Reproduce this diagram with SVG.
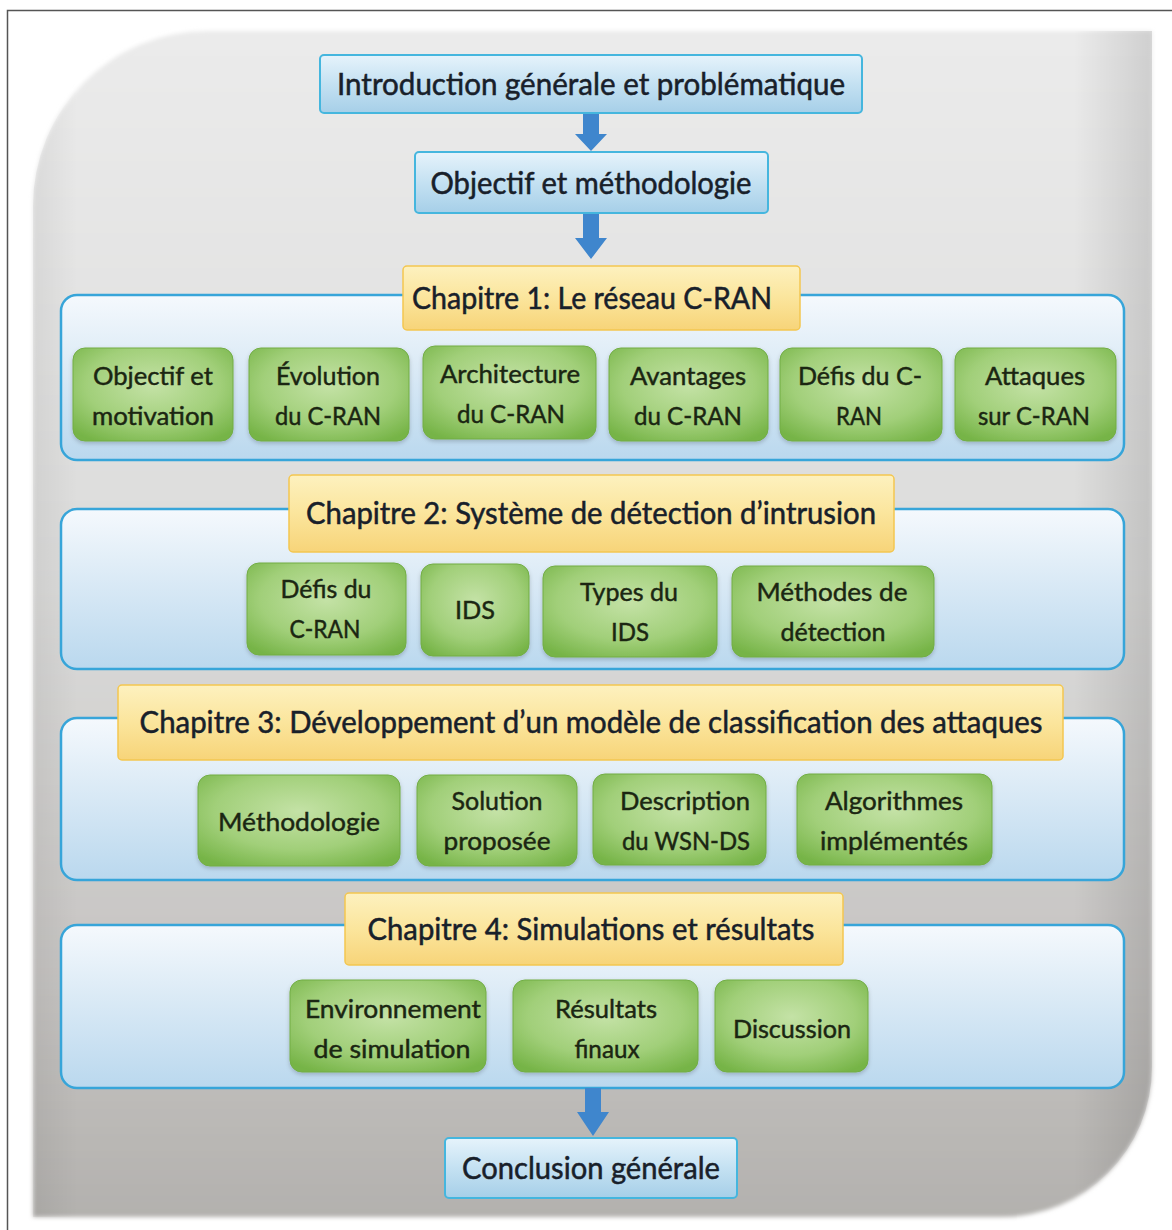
<svg xmlns="http://www.w3.org/2000/svg" width="1172" height="1230" viewBox="0 0 1172 1230">
  <defs>
    <linearGradient id="bgGrad" x1="0" y1="0" x2="0" y2="1">
      <stop offset="0" stop-color="#ebebeb"/>
      <stop offset="0.45" stop-color="#dcdcdb"/>
      <stop offset="0.8" stop-color="#c6c4c2"/>
      <stop offset="1" stop-color="#b3b1ae"/>
    </linearGradient>
    <linearGradient id="bgEdge" x1="0" y1="0" x2="1" y2="0">
      <stop offset="0" stop-color="#000" stop-opacity="0.06"/>
      <stop offset="0.04" stop-color="#000" stop-opacity="0"/>
      <stop offset="0.93" stop-color="#000" stop-opacity="0"/>
      <stop offset="1" stop-color="#000" stop-opacity="0.12"/>
    </linearGradient>
    <linearGradient id="blueBox" x1="0" y1="0" x2="0" y2="1">
      <stop offset="0" stop-color="#e6f3fb"/>
      <stop offset="0.5" stop-color="#c4e1f2"/>
      <stop offset="1" stop-color="#a6cfe8"/>
    </linearGradient>
    <linearGradient id="panel" x1="0" y1="0" x2="0" y2="1">
      <stop offset="0" stop-color="#f5f9fd"/>
      <stop offset="0.35" stop-color="#e0edf7"/>
      <stop offset="1" stop-color="#bad8ee"/>
    </linearGradient>
    <linearGradient id="yellow" x1="0" y1="0" x2="0" y2="1">
      <stop offset="0" stop-color="#fdf1bf"/>
      <stop offset="0.5" stop-color="#fbe59c"/>
      <stop offset="1" stop-color="#f7d479"/>
    </linearGradient>
    <radialGradient id="green" cx="0.5" cy="0.4" r="0.7">
      <stop offset="0" stop-color="#c4e2a6"/>
      <stop offset="0.6" stop-color="#a1cf79"/>
      <stop offset="1" stop-color="#76b447"/>
    </radialGradient>
    <filter id="soft" x="-10%" y="-10%" width="120%" height="130%">
      <feDropShadow dx="0" dy="2" stdDeviation="2" flood-color="#000" flood-opacity="0.2"/>
    </filter>
    <filter id="blurBg" x="-5%" y="-5%" width="110%" height="110%">
      <feGaussianBlur stdDeviation="2"/>
    </filter>
  </defs>
  <style>
    .hdr { font-family: Lato, "Open Sans", "Liberation Sans", sans-serif; font-size: 30px; fill: #18202a; stroke: #18202a; stroke-width: 0.5; text-anchor: middle; }
    .lbl { font-family: Lato, "Open Sans", "Liberation Sans", sans-serif; font-size: 25px; fill: #1b2612; stroke: #1b2612; stroke-width: 0.45; text-anchor: middle; }
    .bluebox { fill: url(#blueBox); stroke: #45b6de; stroke-width: 2; }
    .panel { fill: url(#panel); stroke: #37a5d9; stroke-width: 2.5; }
    .yel { fill: url(#yellow); stroke: #f3c650; stroke-width: 1.5; }
    .grn { fill: url(#green); stroke: #72ad45; stroke-width: 1; filter: url(#soft); }
    .arrow { fill: #3f86cd; }
  </style>

  <rect width="1172" height="1230" fill="#ffffff"/>
  <!-- outer frame -->
  <path d="M7.5 1230 V10.5 H1172" fill="none" stroke="#555" stroke-width="1.5"/>

  <!-- grey rounded backdrop -->
  <g id="backdrop">
    <path d="M33 206 A175 175 0 0 1 208 31 H1152 V1067 A150 150 0 0 1 1002 1217 H33 Z" fill="url(#bgGrad)" filter="url(#blurBg)"/>
    <path d="M33 206 A175 175 0 0 1 208 31 H1152 V1067 A150 150 0 0 1 1002 1217 H33 Z" fill="url(#bgEdge)"/>
  </g>

  <!-- chapter panels -->
  <g id="panel1"><rect class="panel" x="61" y="295" width="1063" height="165" rx="16"/></g>
  <g id="panel2"><rect class="panel" x="61" y="509" width="1063" height="160" rx="16"/></g>
  <g id="panel3"><rect class="panel" x="61" y="718" width="1063" height="162" rx="16"/></g>
  <g id="panel4"><rect class="panel" x="61" y="925" width="1063" height="163" rx="16"/></g>

  <!-- connectors -->
  <g id="connectors">
    <polygon class="arrow" points="583,113 599,113 599,134 607,134 591,151 575,134 583,134"/>
    <polygon class="arrow" points="583,213 599,213 599,238 607,238 591,259 575,238 583,238"/>
    <polygon class="arrow" points="585,1088 601,1088 601,1112 609,1112 593,1136 577,1112 585,1112"/>
  </g>

  <g id="intro">
    <rect class="bluebox" x="320" y="55" width="542" height="58" rx="4"/>
    <text class="hdr" x="591" y="95" textLength="508" lengthAdjust="spacingAndGlyphs">Introduction générale et problématique</text>
  </g>
  <g id="objectif">
    <rect class="bluebox" x="415" y="152" width="353" height="61" rx="4"/>
    <text class="hdr" x="591" y="194" textLength="321" lengthAdjust="spacingAndGlyphs">Objectif et méthodologie</text>
  </g>

  <!-- chapter 1 -->
  <g id="ch1">
    <rect class="yel" x="403" y="266" width="397" height="64" rx="4"/>
    <text class="hdr" x="592" y="309" textLength="360" lengthAdjust="spacingAndGlyphs">Chapitre 1: Le réseau C-RAN</text>
  </g>
  <g id="c1-objectif">
    <rect class="grn" x="73" y="348" width="160" height="93" rx="12"/>
    <text class="lbl" x="153" y="385" textLength="120" lengthAdjust="spacingAndGlyphs">Objectif et</text>
    <text class="lbl" x="153" y="425" textLength="122" lengthAdjust="spacingAndGlyphs">motivation</text>
  </g>
  <g id="c1-evolution">
    <rect class="grn" x="249" y="348" width="160" height="93" rx="12"/>
    <text class="lbl" x="328" y="385" textLength="104" lengthAdjust="spacingAndGlyphs">Évolution</text>
    <text class="lbl" x="328" y="425" textLength="106" lengthAdjust="spacingAndGlyphs">du C-RAN</text>
  </g>
  <g id="c1-architecture">
    <rect class="grn" x="423" y="346" width="173" height="93" rx="12"/>
    <text class="lbl" x="510" y="383" textLength="140" lengthAdjust="spacingAndGlyphs">Architecture</text>
    <text class="lbl" x="511" y="423" textLength="108" lengthAdjust="spacingAndGlyphs">du C-RAN</text>
  </g>
  <g id="c1-avantages">
    <rect class="grn" x="609" y="348" width="159" height="93" rx="12"/>
    <text class="lbl" x="688" y="385" textLength="116" lengthAdjust="spacingAndGlyphs">Avantages</text>
    <text class="lbl" x="688" y="425" textLength="108" lengthAdjust="spacingAndGlyphs">du C-RAN</text>
  </g>
  <g id="c1-defis">
    <rect class="grn" x="780" y="348" width="162" height="93" rx="12"/>
    <text class="lbl" x="860" y="385" textLength="124" lengthAdjust="spacingAndGlyphs">Défis du C-</text>
    <text class="lbl" x="859" y="425" textLength="46" lengthAdjust="spacingAndGlyphs">RAN</text>
  </g>
  <g id="c1-attaques">
    <rect class="grn" x="955" y="348" width="161" height="93" rx="12"/>
    <text class="lbl" x="1035" y="385" textLength="100" lengthAdjust="spacingAndGlyphs">Attaques</text>
    <text class="lbl" x="1034" y="425" textLength="112" lengthAdjust="spacingAndGlyphs">sur C-RAN</text>
  </g>

  <!-- chapter 2 -->
  <g id="ch2">
    <rect class="yel" x="289" y="475" width="605" height="77" rx="4"/>
    <text class="hdr" x="591" y="524" textLength="570" lengthAdjust="spacingAndGlyphs">Chapitre 2: Système de détection d’intrusion</text>
  </g>
  <g id="c2-defis">
    <rect class="grn" x="247" y="563" width="159" height="92" rx="12"/>
    <text class="lbl" x="326" y="598" textLength="91" lengthAdjust="spacingAndGlyphs">Défis du</text>
    <text class="lbl" x="325" y="638" textLength="71" lengthAdjust="spacingAndGlyphs">C-RAN</text>
  </g>
  <g id="c2-ids">
    <rect class="grn" x="421" y="564" width="108" height="92" rx="12"/>
    <text class="lbl" x="475" y="619" textLength="40" lengthAdjust="spacingAndGlyphs">IDS</text>
  </g>
  <g id="c2-types">
    <rect class="grn" x="543" y="566" width="174" height="91" rx="12"/>
    <text class="lbl" x="629" y="601" textLength="98" lengthAdjust="spacingAndGlyphs">Types du</text>
    <text class="lbl" x="630" y="641" textLength="38" lengthAdjust="spacingAndGlyphs">IDS</text>
  </g>
  <g id="c2-methodes">
    <rect class="grn" x="732" y="566" width="202" height="91" rx="12"/>
    <text class="lbl" x="832" y="601" textLength="151" lengthAdjust="spacingAndGlyphs">Méthodes de</text>
    <text class="lbl" x="833" y="641" textLength="105" lengthAdjust="spacingAndGlyphs">détection</text>
  </g>

  <!-- chapter 3 -->
  <g id="ch3">
    <rect class="yel" x="118" y="685" width="945" height="75" rx="4"/>
    <text class="hdr" x="591" y="733" textLength="903" lengthAdjust="spacingAndGlyphs">Chapitre 3: Développement d’un modèle de classification des attaques</text>
  </g>
  <g id="c3-methodologie">
    <rect class="grn" x="198" y="775" width="202" height="91" rx="12"/>
    <text class="lbl" x="299" y="831" textLength="162" lengthAdjust="spacingAndGlyphs">Méthodologie</text>
  </g>
  <g id="c3-solution">
    <rect class="grn" x="417" y="775" width="160" height="91" rx="12"/>
    <text class="lbl" x="497" y="810" textLength="91" lengthAdjust="spacingAndGlyphs">Solution</text>
    <text class="lbl" x="497" y="850" textLength="107" lengthAdjust="spacingAndGlyphs">proposée</text>
  </g>
  <g id="c3-description">
    <rect class="grn" x="593" y="774" width="173" height="91" rx="12"/>
    <text class="lbl" x="685" y="810" textLength="130" lengthAdjust="spacingAndGlyphs">Description</text>
    <text class="lbl" x="686" y="850" textLength="128" lengthAdjust="spacingAndGlyphs">du WSN-DS</text>
  </g>
  <g id="c3-algorithmes">
    <rect class="grn" x="797" y="774" width="195" height="91" rx="12"/>
    <text class="lbl" x="894" y="810" textLength="138" lengthAdjust="spacingAndGlyphs">Algorithmes</text>
    <text class="lbl" x="894" y="850" textLength="148" lengthAdjust="spacingAndGlyphs">implémentés</text>
  </g>

  <!-- chapter 4 -->
  <g id="ch4">
    <rect class="yel" x="345" y="893" width="498" height="72" rx="4"/>
    <text class="hdr" x="591" y="940" textLength="447" lengthAdjust="spacingAndGlyphs">Chapitre 4: Simulations et résultats</text>
  </g>
  <g id="c4-environnement">
    <rect class="grn" x="290" y="980" width="196" height="92" rx="12"/>
    <text class="lbl" x="393" y="1018" textLength="176" lengthAdjust="spacingAndGlyphs">Environnement</text>
    <text class="lbl" x="392" y="1058" textLength="157" lengthAdjust="spacingAndGlyphs">de simulation</text>
  </g>
  <g id="c4-resultats">
    <rect class="grn" x="513" y="980" width="185" height="92" rx="12"/>
    <text class="lbl" x="606" y="1018" textLength="102" lengthAdjust="spacingAndGlyphs">Résultats</text>
    <text class="lbl" x="607" y="1058" textLength="65" lengthAdjust="spacingAndGlyphs">finaux</text>
  </g>
  <g id="c4-discussion">
    <rect class="grn" x="715" y="980" width="153" height="92" rx="12"/>
    <text class="lbl" x="792" y="1038" textLength="118" lengthAdjust="spacingAndGlyphs">Discussion</text>
  </g>

  <g id="conclusion">
    <rect class="bluebox" x="445" y="1138" width="292" height="60" rx="4"/>
    <text class="hdr" x="591" y="1179" textLength="258" lengthAdjust="spacingAndGlyphs">Conclusion générale</text>
  </g>
</svg>
